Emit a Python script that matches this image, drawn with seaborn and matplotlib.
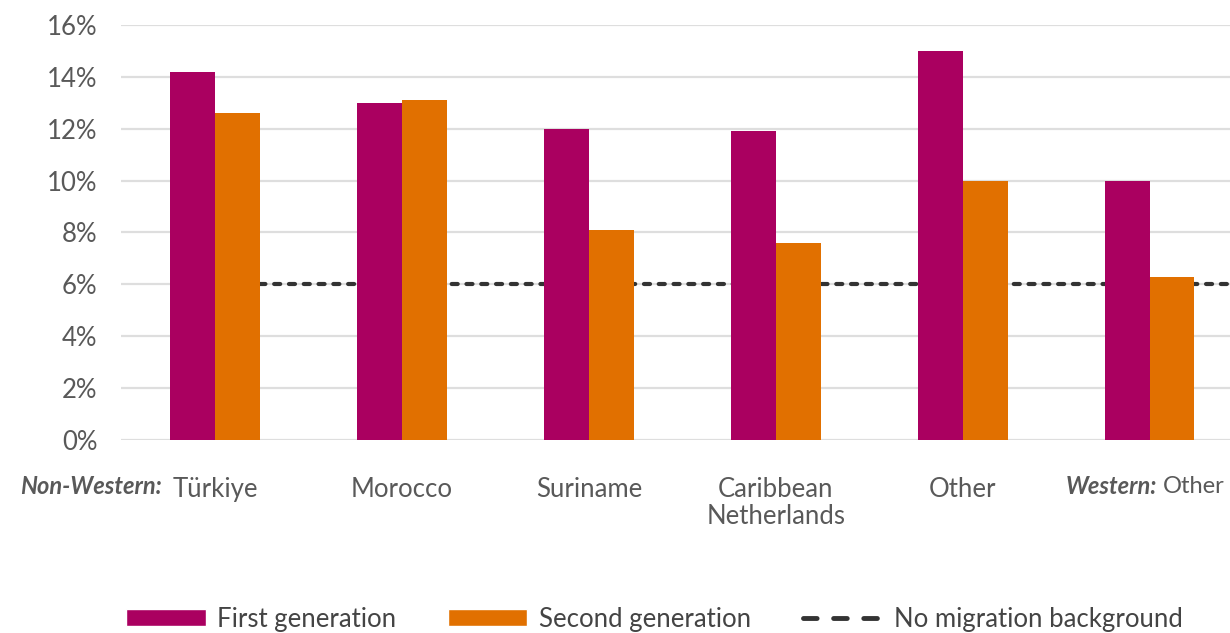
import matplotlib
matplotlib.use("Agg")
import matplotlib.pyplot as plt
import matplotlib.transforms as mtransforms
from matplotlib.patches import Patch
from matplotlib.lines import Line2D
import seaborn as sns
import pandas as pd

# Groups and their values (percent)
groups = ["Türkiye", "Morocco", "Suriname", "Caribbean Netherlands", "Other", "Western Other"]
tick_labels = ["Türkiye", "Morocco", "Suriname", "Caribbean\nNetherlands", "Other", ""]
first_generation = [14.2, 13.0, 12.0, 11.9, 15.0, 10.0]
second_generation = [12.6, 13.1, 8.1, 7.6, 10.0, 6.3]
no_migration_background = 6.0
y_ticks = [0, 2, 4, 6, 8, 10, 12, 14, 16]

series_names = ["First generation", "Second generation"]
colors = ["#AA0060", "#E17000"]
text_color = "#595959"
fs = 18.5

sns.set_theme(style="white")
plt.rcParams["font.family"] = ["Lato", "DejaVu Sans"]

df = pd.DataFrame({
    "group": groups * 2,
    "series": [series_names[0]] * len(groups) + [series_names[1]] * len(groups),
    "value": first_generation + second_generation,
})

fig = plt.figure(figsize=(12.3, 6.33), dpi=100)
ax = fig.add_axes([0.0984, 0.305, 0.9016, 0.6555])

sns.barplot(data=df, x="group", y="value", hue="series", order=groups,
            hue_order=series_names, palette=colors, width=0.48,
            saturation=1, linewidth=0, legend=False, ax=ax, zorder=3)

# Reference level drawn behind the bars
x_right = 5.43
ax.plot([0, x_right], [no_migration_background] * 2, color="#333333", lw=3,
        dashes=(1.45, 2.1), dash_capstyle="round", zorder=2)

ax.set_xlim(-0.503, x_right)
ax.set_ylim(0, 16)
ax.set_yticks(y_ticks)
ax.set_yticklabels([f"{v}%" for v in y_ticks])
ax.yaxis.grid(True, color="#DEDEDE", lw=1.6, zorder=0)
ax.set_axisbelow(True)
for s in ax.spines.values():
    s.set_visible(False)
ax.tick_params(axis="both", length=0, labelsize=fs, colors=text_color)
ax.tick_params(axis="y", pad=17)
ax.tick_params(axis="x", pad=27)
ax.set_xticks(range(len(groups)))
ax.set_xticklabels(tick_labels, linespacing=1.1)
ax.set_xlabel("")
ax.set_ylabel("")

# Group prefixes in bold italic
trans = mtransforms.blended_transform_factory(ax.transData, ax.transAxes)
label_y = -0.113
ax.text(-0.283, label_y, "Non-Western:", transform=trans, ha="right", va="center",
        fontsize=17, fontweight="bold", fontstyle="italic", color=text_color)
ax.text(5.04, label_y, "Western:", transform=trans, ha="right", va="center",
        fontsize=17, fontweight="bold", fontstyle="italic", color=text_color,
        clip_on=False)
ax.text(5.07, label_y, "Other", transform=trans, ha="left", va="center",
        fontsize=17, color=text_color, clip_on=False)

handles = [
    Patch(facecolor=colors[0], label=series_names[0]),
    Patch(facecolor=colors[1], label=series_names[1]),
    Line2D([0], [0], color="#333333", lw=3.5, dashes=(2.8, 3.4),
           dash_capstyle="round", label="No migration background"),
]
fig.legend(handles=handles, loc="center", bbox_to_anchor=(0.532, 0.022),
           ncol=3, frameon=False, fontsize=18.5, handlelength=3.1,
           handleheight=0.65, handletextpad=0.45, columnspacing=2.0,
           labelcolor="#444444")

fig.savefig("out.png", dpi=100)
